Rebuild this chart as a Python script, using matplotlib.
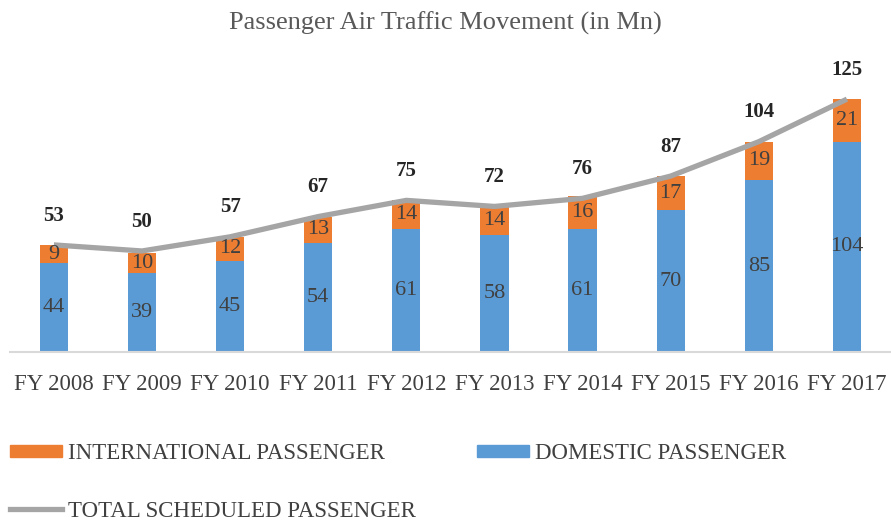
import matplotlib.pyplot as plt
from matplotlib.patches import Patch
from matplotlib.lines import Line2D

plt.rcParams['font.family'] = ['Liberation Serif', 'DejaVu Serif']

years = ['FY 2008', 'FY 2009', 'FY 2010', 'FY 2011', 'FY 2012',
         'FY 2013', 'FY 2014', 'FY 2015', 'FY 2016', 'FY 2017']
domestic = [44, 39, 45, 54, 61, 58, 61, 70, 85, 104]
international = [9, 10, 12, 13, 14, 14, 16, 17, 19, 21]
total = [53, 50, 57, 67, 75, 72, 76, 87, 104, 125]

blue = '#5b9bd5'
orange = '#ed7d31'
grey = '#a5a5a5'
txt = '#404040'

fig = plt.figure(figsize=(8.91, 5.21), dpi=100)
ax = fig.add_axes([0.011, 0.324, 0.989, 0.544])

x = list(range(len(years)))
ax.bar(x, domestic, width=0.32, color=blue)
ax.bar(x, international, width=0.32, bottom=domestic, color=orange)
ax.plot(x, total, color=grey, lw=3.8, solid_capstyle='butt', zorder=3)

for i in x:
    ax.text(i, domestic[i] / 2, str(domestic[i]), ha='center', va='center',
            fontsize=16, color=txt)
    ax.text(i, domestic[i] + international[i] / 2, str(international[i]),
            ha='center', va='center', fontsize=16, color=txt)
    ax.text(i, total[i] + 14.5, str(total[i]), ha='center', va='center',
            fontsize=15, fontweight='bold', color='#262626')

ax.set_xlim(-0.5, len(years) - 0.5)
ax.set_ylim(0, 140)
ax.set_xticks(x)
ax.set_xticklabels(years, fontsize=16.5, color=txt)
ax.tick_params(axis='x', length=0, pad=16)
ax.set_yticks([])
for s in ['top', 'right', 'left']:
    ax.spines[s].set_visible(False)
ax.spines['bottom'].set_color('#d9d9d9')
ax.spines['bottom'].set_linewidth(1.5)

fig.text(0.5, 0.955, 'Passenger Air Traffic Movement (in Mn)', ha='center',
         va='center', fontsize=19, color='#595959')

# order chosen so that the two columns read row-wise like the reference
handles = [Patch(color=orange), Line2D([], [], color=grey, lw=3.8),
           Patch(color=blue)]
labels = ['INTERNATIONAL PASSENGER', 'TOTAL SCHEDULED PASSENGER',
          'DOMESTIC PASSENGER']
fig.legend(handles, labels, ncol=2, loc='upper left',
           bbox_to_anchor=(0.011, 0.15), bbox_transform=fig.transFigure,
           frameon=False, fontsize=16.5, labelcolor=txt,
           handlelength=2.27, handleheight=0.45, handletextpad=0.25,
           labelspacing=1.6, columnspacing=2.7, borderaxespad=0,
           borderpad=0)

fig.savefig('out.png', dpi=100)
